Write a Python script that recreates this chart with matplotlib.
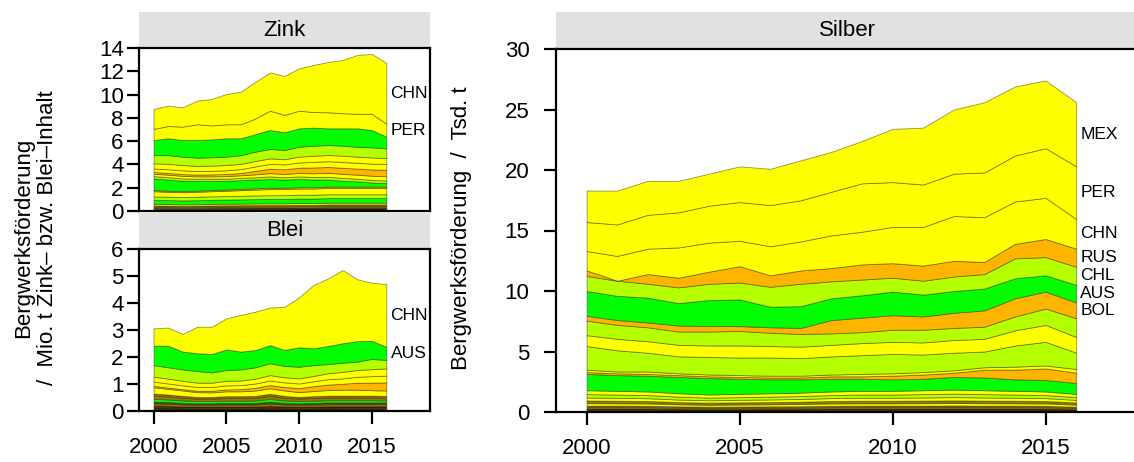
import numpy as np
import matplotlib
matplotlib.use("Agg")
import matplotlib.pyplot as plt

plt.rcParams['font.family'] = ['Liberation Sans', 'DejaVu Sans']

YEARS = [2000, 2001, 2002, 2003, 2004, 2005, 2006, 2007, 2008,
         2009, 2010, 2011, 2012, 2013, 2014, 2015, 2016]

YEL, LGR, GRN, ORA, RED = '#FFFF00', '#B4FF00', '#00FF00', '#FFB400', '#FF3000'
DK1, DK2, DK3, OLV, DOR = '#3a2c00', '#5c4400', '#4a1c00', '#8c8200', '#a86a00'

# ---------------- Zink (Mio. t) : layers bottom -> top ----------------
zn_s1 = [0.08, 0.08, 0.08, 0.08, 0.09, 0.09, 0.09, 0.09, 0.09, 0.09, 0.10, 0.10, 0.10, 0.10, 0.10, 0.10, 0.10]
zn_s2 = [0.10, 0.10, 0.09, 0.09, 0.10, 0.10, 0.10, 0.11, 0.11, 0.11, 0.11, 0.11, 0.12, 0.12, 0.12, 0.12, 0.12]
zn_s3 = [0.09, 0.09, 0.09, 0.09, 0.09, 0.10, 0.10, 0.10, 0.10, 0.10, 0.10, 0.10, 0.11, 0.11, 0.11, 0.11, 0.11]
zn_s4 = [0.10, 0.10, 0.10, 0.10, 0.10, 0.10, 0.11, 0.11, 0.11, 0.11, 0.12, 0.12, 0.12, 0.12, 0.12, 0.12, 0.12]
zn_s5 = [0.10, 0.10, 0.09, 0.10, 0.10, 0.10, 0.10, 0.10, 0.11, 0.11, 0.11, 0.11, 0.11, 0.11, 0.11, 0.11, 0.11]
zn_s6 = [0.13, 0.13, 0.12, 0.12, 0.13, 0.13, 0.13, 0.14, 0.14, 0.14, 0.14, 0.14, 0.15, 0.15, 0.15, 0.15, 0.15]
zn_s7 = [0.35, 0.34, 0.34, 0.35, 0.35, 0.36, 0.37, 0.37, 0.38, 0.38, 0.39, 0.39, 0.40, 0.40, 0.40, 0.40, 0.40]
zn_s8 = [0.30, 0.29, 0.29, 0.30, 0.30, 0.30, 0.31, 0.32, 0.32, 0.32, 0.33, 0.33, 0.33, 0.33, 0.33, 0.33, 0.33]
zn_s9 = [0.45, 0.42, 0.41, 0.42, 0.44, 0.46, 0.48, 0.50, 0.52, 0.52, 0.53, 0.53, 0.54, 0.54, 0.54, 0.54, 0.54]
zn_s10 = [0.10, 0.10, 0.09, 0.10, 0.10, 0.11, 0.11, 0.11, 0.12, 0.12, 0.12, 0.12, 0.12, 0.12, 0.12, 0.12, 0.12]
zn_CAN = [1.00, 0.95, 0.90, 0.85, 0.80, 0.75, 0.75, 0.75, 0.75, 0.70, 0.70, 0.65, 0.60, 0.50, 0.45, 0.35, 0.30]
zn_IRL = [0.20, 0.20, 0.20, 0.18, 0.18, 0.18, 0.20, 0.20, 0.22, 0.20, 0.22, 0.22, 0.24, 0.24, 0.22, 0.22, 0.22]
zn_KAZ = [0.20, 0.22, 0.22, 0.20, 0.20, 0.22, 0.22, 0.25, 0.28, 0.28, 0.30, 0.32, 0.34, 0.35, 0.35, 0.36, 0.36]
zn_BOL = [0.15, 0.15, 0.15, 0.15, 0.17, 0.18, 0.20, 0.30, 0.38, 0.40, 0.45, 0.50, 0.50, 0.52, 0.52, 0.54, 0.56]
zn_MEX = [0.30, 0.32, 0.32, 0.30, 0.30, 0.32, 0.33, 0.38, 0.42, 0.42, 0.45, 0.48, 0.50, 0.50, 0.50, 0.50, 0.50]
zn_USA = [0.45, 0.46, 0.46, 0.44, 0.45, 0.45, 0.45, 0.47, 0.47, 0.45, 0.50, 0.53, 0.53, 0.54, 0.53, 0.53, 0.51]
zn_IND = [0.70, 0.75, 0.72, 0.71, 0.72, 0.72, 0.75, 0.80, 0.81, 0.79, 0.85, 0.86, 0.86, 0.86, 0.85, 0.87, 0.83]
zn_AUS = [1.30, 1.45, 1.43, 1.52, 1.53, 1.58, 1.45, 1.50, 1.63, 1.52, 1.58, 1.55, 1.43, 1.49, 1.58, 1.49, 1.00]
zn_PER = [0.95, 1.05, 1.15, 1.35, 1.20, 1.20, 1.20, 1.35, 1.66, 1.49, 1.52, 1.34, 1.38, 1.30, 1.25, 1.39, 1.12]
zn_CHN = [1.71, 1.75, 1.65, 2.03, 2.27, 2.60, 2.80, 3.15, 3.28, 3.35, 3.63, 4.05, 4.32, 4.57, 5.05, 5.15, 5.20]

# ---------------- Blei (Mio. t) ----------------
pb_s1 = [0.06, 0.06, 0.05, 0.05, 0.05, 0.05, 0.05, 0.05, 0.06, 0.05, 0.05, 0.05, 0.05, 0.04, 0.04, 0.04, 0.04]
pb_s2 = [0.08, 0.08, 0.07, 0.07, 0.07, 0.07, 0.07, 0.07, 0.08, 0.07, 0.07, 0.07, 0.08, 0.08, 0.08, 0.08, 0.08]
pb_s3 = [0.06, 0.06, 0.05, 0.05, 0.05, 0.05, 0.05, 0.05, 0.06, 0.05, 0.05, 0.05, 0.05, 0.06, 0.06, 0.06, 0.07]
pb_s4 = [0.08, 0.07, 0.07, 0.06, 0.06, 0.07, 0.07, 0.07, 0.08, 0.07, 0.06, 0.07, 0.07, 0.07, 0.07, 0.07, 0.07]
pb_s5 = [0.07, 0.07, 0.06, 0.06, 0.06, 0.06, 0.06, 0.06, 0.07, 0.06, 0.06, 0.06, 0.07, 0.07, 0.07, 0.07, 0.06]
pb_s6 = [0.10, 0.09, 0.09, 0.08, 0.08, 0.08, 0.08, 0.09, 0.10, 0.09, 0.08, 0.08, 0.08, 0.08, 0.08, 0.08, 0.07]
pb_s7 = [0.12, 0.11, 0.10, 0.09, 0.09, 0.10, 0.10, 0.10, 0.11, 0.10, 0.09, 0.10, 0.10, 0.10, 0.10, 0.10, 0.10]
pb_s8 = [0.08, 0.07, 0.07, 0.06, 0.06, 0.07, 0.07, 0.07, 0.08, 0.07, 0.06, 0.07, 0.07, 0.07, 0.07, 0.07, 0.07]
pb_s9 = [0.23, 0.21, 0.20, 0.18, 0.17, 0.18, 0.18, 0.20, 0.20, 0.20, 0.18, 0.19, 0.21, 0.22, 0.22, 0.20, 0.20]
pb_BOL = [0.05, 0.05, 0.05, 0.05, 0.06, 0.07, 0.08, 0.10, 0.12, 0.13, 0.15, 0.18, 0.20, 0.22, 0.26, 0.28, 0.30]
pb_MEX = [0.16, 0.15, 0.14, 0.14, 0.14, 0.15, 0.15, 0.16, 0.17, 0.17, 0.17, 0.18, 0.20, 0.20, 0.22, 0.24, 0.25]
pb_PER = [0.18, 0.18, 0.17, 0.16, 0.16, 0.17, 0.17, 0.18, 0.20, 0.19, 0.19, 0.20, 0.22, 0.24, 0.25, 0.26, 0.27]
pb_USA = [0.43, 0.42, 0.42, 0.43, 0.38, 0.40, 0.41, 0.42, 0.44, 0.42, 0.43, 0.40, 0.34, 0.34, 0.31, 0.38, 0.31]
pb_AUS = [0.72, 0.80, 0.66, 0.66, 0.68, 0.76, 0.66, 0.64, 0.67, 0.59, 0.72, 0.62, 0.67, 0.72, 0.76, 0.67, 0.49]
pb_CHN = [0.64, 0.67, 0.65, 0.98, 1.01, 1.15, 1.36, 1.42, 1.39, 1.60, 1.85, 2.35, 2.50, 2.71, 2.29, 2.15, 2.32]

# ---------------- Silber (Tsd. t) ----------------
ag_s1 = [0.06, 0.06, 0.06, 0.05, 0.05, 0.05, 0.05, 0.05, 0.06, 0.06, 0.06, 0.06, 0.06, 0.06, 0.06, 0.06, 0.05]
ag_s2 = [0.08, 0.08, 0.08, 0.07, 0.07, 0.07, 0.07, 0.07, 0.08, 0.08, 0.08, 0.08, 0.08, 0.08, 0.08, 0.08, 0.07]
ag_s3 = [0.10, 0.10, 0.10, 0.09, 0.08, 0.09, 0.09, 0.09, 0.10, 0.10, 0.10, 0.10, 0.10, 0.10, 0.10, 0.10, 0.08]
ag_s4 = [0.05, 0.05, 0.05, 0.05, 0.04, 0.04, 0.05, 0.05, 0.05, 0.05, 0.05, 0.05, 0.05, 0.05, 0.05, 0.05, 0.04]
ag_s5 = [0.12, 0.12, 0.12, 0.11, 0.10, 0.10, 0.11, 0.11, 0.12, 0.12, 0.12, 0.12, 0.13, 0.12, 0.12, 0.12, 0.10]
ag_s6 = [0.12, 0.12, 0.11, 0.10, 0.10, 0.10, 0.10, 0.11, 0.11, 0.12, 0.12, 0.12, 0.12, 0.12, 0.12, 0.11, 0.10]
ag_s7 = [0.20, 0.19, 0.19, 0.17, 0.16, 0.17, 0.17, 0.18, 0.19, 0.19, 0.19, 0.20, 0.20, 0.20, 0.19, 0.19, 0.17]
ag_s8 = [0.22, 0.21, 0.20, 0.18, 0.17, 0.18, 0.18, 0.19, 0.20, 0.21, 0.21, 0.21, 0.22, 0.21, 0.21, 0.20, 0.18]
ag_s9 = [0.25, 0.24, 0.23, 0.21, 0.20, 0.21, 0.22, 0.23, 0.24, 0.25, 0.25, 0.26, 0.27, 0.26, 0.25, 0.24, 0.21]
ag_s10 = [0.28, 0.27, 0.26, 0.24, 0.22, 0.22, 0.23, 0.24, 0.25, 0.26, 0.26, 0.28, 0.29, 0.28, 0.26, 0.25, 0.23]
ag_s11 = [0.32, 0.31, 0.30, 0.28, 0.26, 0.27, 0.28, 0.28, 0.30, 0.31, 0.31, 0.32, 0.33, 0.32, 0.31, 0.30, 0.27]
ag_CAN = [1.35, 1.30, 1.30, 1.35, 1.35, 1.25, 1.15, 1.10, 1.05, 1.00, 0.95, 0.95, 1.05, 1.05, 0.95, 0.95, 0.90]
ag_ARG = [0.15, 0.15, 0.15, 0.15, 0.15, 0.15, 0.15, 0.15, 0.20, 0.20, 0.30, 0.35, 0.35, 0.65, 0.80, 0.95, 0.85]
ag_IDN = [0.20, 0.15, 0.20, 0.15, 0.15, 0.15, 0.15, 0.15, 0.15, 0.20, 0.20, 0.20, 0.20, 0.20, 0.25, 0.25, 0.30]
ag_USA = [1.95, 1.75, 1.55, 1.40, 1.45, 1.45, 1.50, 1.45, 1.50, 1.55, 1.60, 1.45, 1.45, 1.30, 1.75, 1.95, 1.35]
ag_KAZ = [0.90, 0.95, 0.95, 0.95, 0.95, 1.00, 0.95, 0.95, 0.95, 1.00, 1.00, 1.00, 1.05, 1.05, 1.25, 1.40, 1.30]
ag_POL = [1.20, 1.15, 1.15, 1.10, 1.15, 1.20, 1.10, 1.05, 0.95, 0.90, 1.00, 1.05, 1.00, 1.00, 1.15, 1.35, 1.55]
ag_BOL = [0.40, 0.40, 0.40, 0.50, 0.45, 0.40, 0.45, 0.50, 1.10, 1.20, 1.20, 1.10, 1.25, 1.35, 1.50, 1.40, 1.30]
ag_AUS = [2.05, 2.00, 2.05, 1.85, 2.15, 2.20, 1.70, 1.80, 1.80, 1.85, 1.95, 1.80, 1.80, 1.80, 1.65, 1.35, 1.45]
ag_CHL = [1.25, 1.25, 1.15, 1.30, 1.35, 1.40, 1.65, 1.85, 1.40, 1.30, 1.15, 1.15, 1.20, 1.20, 1.65, 1.50, 1.50]
ag_RUS = [0.45, 0.00, 0.80, 0.80, 1.00, 1.35, 0.95, 1.10, 1.10, 1.25, 1.20, 1.25, 1.30, 1.00, 1.20, 1.50, 1.50]
ag_CHN = [1.60, 2.05, 2.10, 2.50, 2.40, 2.10, 2.40, 2.40, 2.70, 2.70, 3.00, 3.20, 3.70, 3.70, 3.50, 3.40, 2.45]
ag_PER = [2.40, 2.60, 2.80, 2.90, 3.05, 3.20, 3.40, 3.40, 3.60, 4.00, 3.70, 3.50, 3.50, 3.70, 3.80, 4.10, 4.35]
ag_MEX = [2.60, 2.80, 2.80, 2.60, 2.65, 2.95, 3.00, 3.30, 3.30, 3.50, 4.40, 4.70, 5.30, 5.80, 5.70, 5.60, 5.30]

# (values, fill colour, label) bottom -> top
zink_layers = [
    (zn_s1, DK1, None), (zn_s2, DK3, None), (zn_s3, DK2, None), (zn_s4, OLV, None),
    (zn_s5, DOR, None), (zn_s6, YEL, None), (zn_s7, GRN, None), (zn_s8, LGR, None),
    (zn_s9, YEL, None), (zn_s10, ORA, None), (zn_CAN, GRN, None), (zn_IRL, LGR, None),
    (zn_KAZ, YEL, None), (zn_BOL, ORA, None), (zn_MEX, YEL, None), (zn_USA, YEL, None),
    (zn_IND, LGR, None), (zn_AUS, GRN, None), (zn_PER, YEL, 'PER'), (zn_CHN, YEL, 'CHN'),
]
blei_layers = [
    (pb_s1, GRN, None), (pb_s2, DK1, None), (pb_s3, DK3, None), (pb_s4, OLV, None),
    (pb_s5, DK2, None), (pb_s6, GRN, None), (pb_s7, OLV, None), (pb_s8, DOR, None),
    (pb_s9, YEL, None), (pb_BOL, ORA, None), (pb_MEX, YEL, None), (pb_PER, YEL, None),
    (pb_USA, LGR, None), (pb_AUS, GRN, 'AUS'), (pb_CHN, YEL, 'CHN'),
]
silber_layers = [
    (ag_s1, DK1, None), (ag_s2, DK2, None), (ag_s3, DK3, None), (ag_s4, DK1, None),
    (ag_s5, OLV, None), (ag_s6, DOR, None), (ag_s7, YEL, None), (ag_s8, OLV, None),
    (ag_s9, YEL, None), (ag_s10, LGR, None), (ag_s11, YEL, None), (ag_CAN, GRN, None),
    (ag_ARG, ORA, None), (ag_IDN, YEL, None), (ag_USA, LGR, None), (ag_KAZ, YEL, None),
    (ag_POL, LGR, None), (ag_BOL, ORA, 'BOL'), (ag_AUS, GRN, 'AUS'), (ag_CHL, LGR, 'CHL'),
    (ag_RUS, ORA, 'RUS'), (ag_CHN, YEL, 'CHN'), (ag_PER, YEL, 'PER'), (ag_MEX, YEL, 'MEX'),
]

W, H = 1134, 462
FS = 16
fig = plt.figure(figsize=(W / 100, H / 100), dpi=100)


def px(l, t, r, b):
    return [l / W, 1 - b / H, (r - l) / W, (b - t) / H]


def strip(rect, title, cx):
    s = fig.add_axes(rect)
    s.set_facecolor('#E0E1E1')
    s.set_xticks([]); s.set_yticks([])
    for sp in s.spines.values():
        sp.set_visible(False)
    cy = rect[1] + rect[3] / 2
    fig.text(cx / W, cy, title, ha='center', va='center', fontsize=FS)
    return s


def panel(rect, layers, ylim, yticks, xticks, ypad):
    ax = fig.add_axes(rect)
    x = np.array(YEARS)
    base = np.zeros(len(YEARS))
    for vals, col, lab in layers:
        v = np.array(vals, dtype=float)
        ax.fill_between(x, base, base + v, facecolor=col,
                        edgecolor=(0.15, 0.15, 0.05, 0.5), linewidth=0.6)
        if lab:
            ax.annotate(lab, xy=(x[-1], base[-1] + v[-1] / 2), xytext=(3, 0),
                        textcoords='offset points', ha='left', va='center',
                        fontsize=12.5, annotation_clip=False)
        base = base + v
    ax.set_xlim(1999, 2019)
    ax.set_ylim(*ylim)
    ax.set_yticks(yticks)
    if xticks:
        ax.set_xticks([2000, 2005, 2010, 2015])
    else:
        ax.set_xticks([])
    for sp in ax.spines.values():
        sp.set_linewidth(1.6)
        sp.set_color('black')
    ax.tick_params(axis='both', direction='out', length=9, width=1.6, labelsize=FS)
    ax.tick_params(axis='y', pad=ypad)
    ax.tick_params(axis='x', pad=10)
    return ax


strip(px(139, 12, 430, 48), 'Zink', 284.5)
panel(px(139, 48, 430, 211), zink_layers, (0, 14), [0, 2, 4, 6, 8, 10, 12, 14], False, 2)
strip(px(139, 212, 430, 249), 'Blei', 284.5)
panel(px(139, 249, 430, 411), blei_layers, (0, 6), [0, 1, 2, 3, 4, 5, 6], True, 2)
strip(px(556, 12, 1168, 49), 'Silber', 847)
panel(px(556, 49, 1168, 412), silber_layers, (0, 30), [0, 5, 10, 15, 20, 25, 30], True, 10)

fig.text(24 / W, 1 - 238 / H, 'Bergwerksförderung',
         rotation=90, ha='center', va='center', fontsize=FS)
fig.text(48 / W, 1 - 238 / H, '/  Mio. t Zink– bzw. Blei–Inhalt',
         rotation=90, ha='center', va='center', fontsize=FS)
fig.text(462 / W, 1 - 228 / H, 'Bergwerksförderung  /  Tsd. t',
         rotation=90, ha='center', va='center', fontsize=FS)

fig.savefig('out.png', dpi=100)
